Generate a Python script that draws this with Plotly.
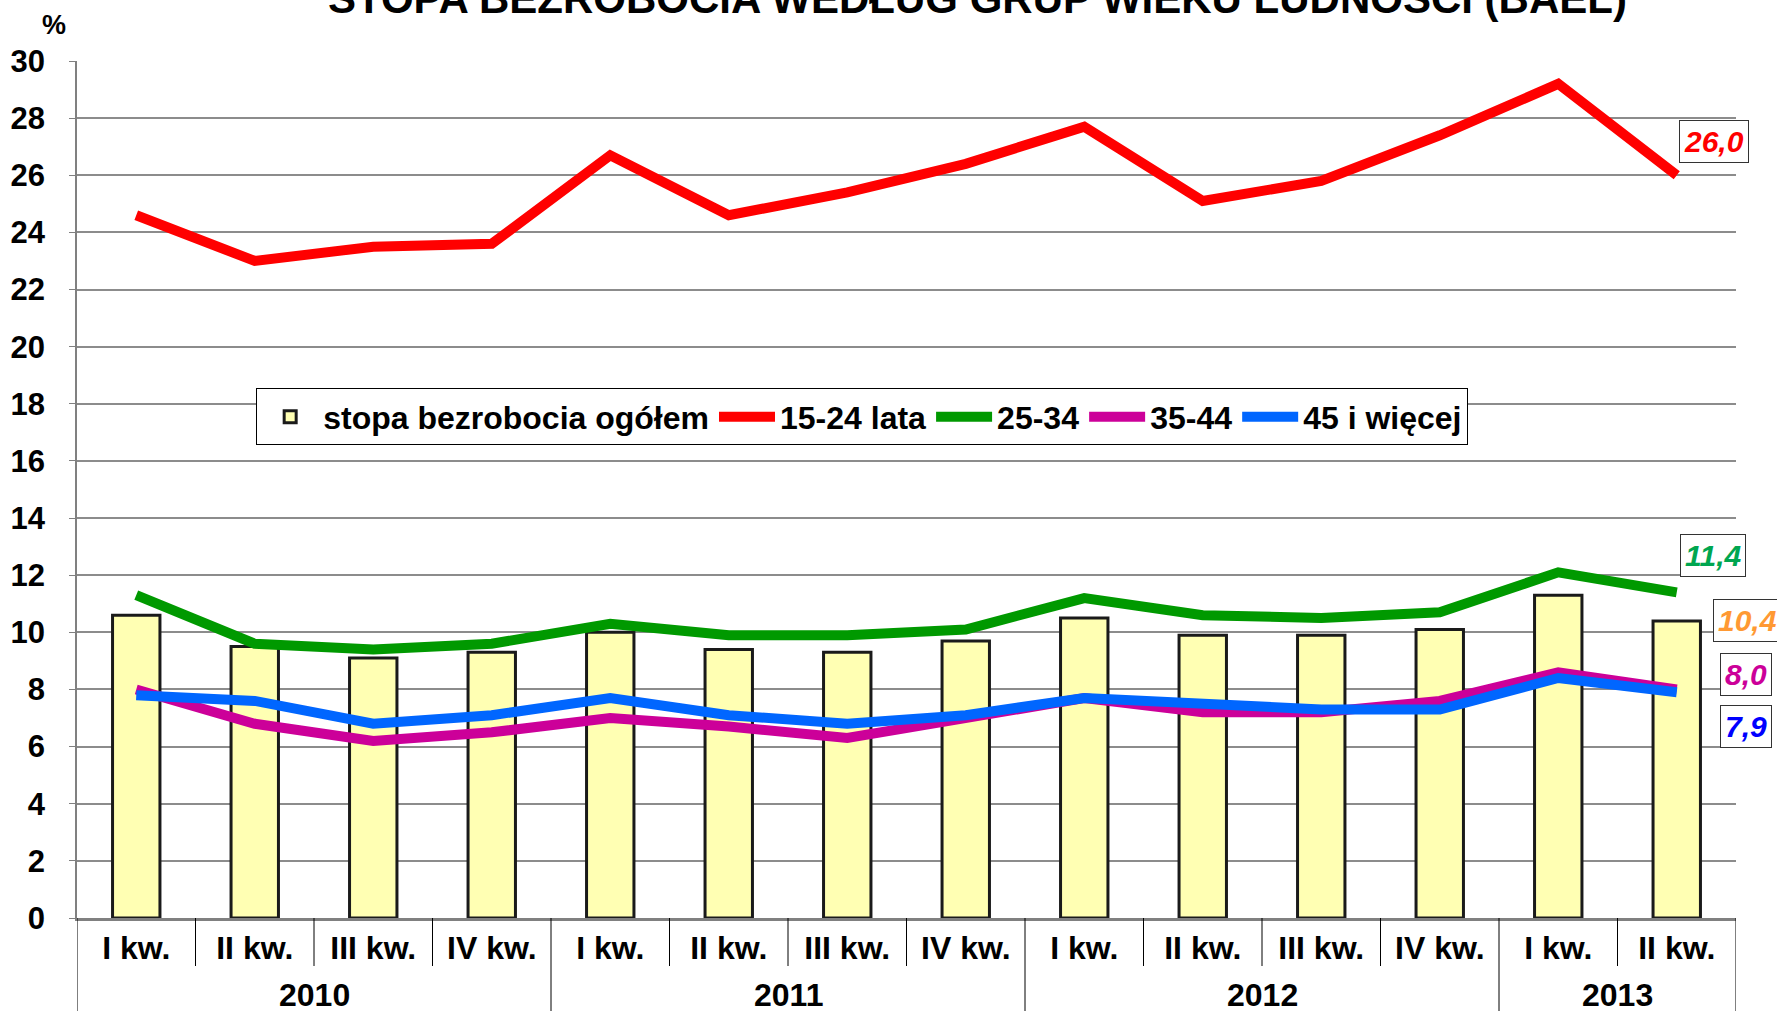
import plotly.graph_objects as go

years = ["2010"] * 4 + ["2011"] * 4 + ["2012"] * 4 + ["2013"] * 2
quarters = ["I kw.", "II kw.", "III kw.", "IV kw."] * 3 + ["I kw.", "II kw."]
total = [10.6, 9.5, 9.1, 9.3, 10.0, 9.4, 9.3, 9.7, 10.5, 9.9, 9.9, 10.1, 11.3, 10.4]
age_15_24 = [24.6, 23.0, 23.5, 23.6, 26.7, 24.6, 25.4, 26.4, 27.7, 25.1, 25.8, 27.4, 29.2, 26.0]
age_25_34 = [11.3, 9.6, 9.4, 9.6, 10.3, 9.9, 9.9, 10.1, 11.2, 10.6, 10.5, 10.7, 12.1, 11.4]
age_35_44 = [8.0, 6.8, 6.2, 6.5, 7.0, 6.7, 6.3, 7.0, 7.7, 7.2, 7.2, 7.6, 8.6, 8.0]
age_45 = [7.8, 7.6, 6.8, 7.1, 7.7, 7.1, 6.8, 7.1, 7.7, 7.5, 7.3, 7.3, 8.4, 7.9]

series_names = ["stopa bezrobocia ogółem", "15-24 lata", "25-34", "35-44", "45 i więcej"]
title_text = "STOPA BEZROBOCIA WEDŁUG GRUP WIEKU LUDNOŚCI (BAEL)"

FONT = "Liberation Sans, Arial, sans-serif"
idx = list(range(len(quarters)))
n = len(idx)

fig = go.Figure()
fig.add_trace(go.Bar(
    x=idx, y=total, name=series_names[0],
    marker=dict(color="#FFFFB3", line=dict(color="#1a1a1a", width=3)),
))
line_specs = [
    (age_15_24, series_names[1], "#FF0000"),
    (age_25_34, series_names[2], "#009900"),
    (age_35_44, series_names[3], "#CC0099"),
    (age_45, series_names[4], "#0066FF"),
]
for vals, name, col in line_specs:
    fig.add_trace(go.Scatter(
        x=idx, y=vals, name=name, mode="lines",
        line=dict(color=col, width=10),
    ))

def fmt(v):
    return f"{v:.1f}".replace(".", ",")

# end-value labels: (value, colour, xshift px, yshift px)
labels = [
    (age_15_24[-1], "#FF0000", 37, 34),
    (age_25_34[-1], "#00A650", 36, 37),
    (total[-1], "#FF9933", 71, 0),
    (age_35_44[-1], "#CC0099", 69, 15),
    (age_45[-1], "#0000FF", 69, -34),
]
for v, col, xs, ys in labels:
    fig.add_annotation(
        x=idx[-1], xref="x", y=v, yref="y", xshift=xs, yshift=ys,
        xanchor="center", yanchor="middle",
        text=f"<b><i>{fmt(v)}</i></b>", showarrow=False,
        font=dict(family=FONT, size=30, color=col),
        bgcolor="white", bordercolor="#333333", borderwidth=1, borderpad=4,
    )

# x-axis grouping: quarter ticks, year dividers and year labels
plot_h = 857.0
groups = []
for i, yr in enumerate(years):
    if not groups or groups[-1][0] != yr:
        groups.append([yr, i, i])
    else:
        groups[-1][2] = i
year_bounds = set()
for yr, a, b in groups:
    year_bounds.add(a - 0.5)
    year_bounds.add(b + 0.5)
    fig.add_annotation(
        x=(a + b) / 2, xref="x", y=-77 / plot_h, yref="paper",
        xanchor="center", yanchor="middle",
        text=f"<b>{yr}</b>", showarrow=False,
        font=dict(family=FONT, size=32, color="black"),
    )
for i in range(n + 1):
    xb = i - 0.5
    if xb in year_bounds:
        y1 = -100 / plot_h
    else:
        y1 = -48 / plot_h
    fig.add_shape(
        type="line", xref="x", yref="paper", x0=xb, x1=xb, y0=0, y1=y1,
        line=dict(color="black", width=1),
    )

fig.add_annotation(
    x=0.543, xref="paper", y=1.073, yref="paper", xanchor="center", yanchor="middle",
    text=f"<b>{title_text}</b>", showarrow=False,
    font=dict(family=FONT, size=42, color="black"),
)
fig.add_annotation(
    x=-0.0139, xref="paper", y=1.042, yref="paper", xanchor="center", yanchor="middle",
    text="<b>%</b>", showarrow=False,
    font=dict(family=FONT, size=27, color="black"),
)

fig.update_layout(
    width=1777, height=1011,
    margin=dict(l=77, r=41, t=61, b=93, autoexpand=False),
    paper_bgcolor="white", plot_bgcolor="white",
    font=dict(family=FONT, size=32, color="black", weight="bold"),
    bargap=0.6,
    showlegend=True,
    legend=dict(
        orientation="h", x=0.108, y=0.618, xanchor="left", yanchor="top",
        bgcolor="white", bordercolor="black", borderwidth=1,
        font=dict(family=FONT, size=32, color="black", weight="bold"),
        itemwidth=56, tracegroupgap=0,
    ),
    xaxis=dict(
        range=[-0.5, n - 0.5], automargin=False,
        tickmode="array", tickvals=idx, ticktext=quarters,
        showline=True, linecolor="#808080", linewidth=3,
        ticks="", ticklabelstandoff=0,
        tickfont=dict(family=FONT, size=32, color="black", weight="bold"),
        showgrid=False, zeroline=False, fixedrange=True,
    ),
    yaxis=dict(
        range=[0, 30], dtick=2, tick0=0, automargin=False,
        showgrid=True, gridcolor="#8c8c8c", gridwidth=1.5,
        showline=True, linecolor="#808080", linewidth=1.5,
        ticks="outside", ticklen=6, tickcolor="#808080",
        ticklabelstandoff=18,
        tickfont=dict(family=FONT, size=31, color="black", weight="bold"),
        zeroline=False, fixedrange=True,
    ),
)

fig.write_html(
    "out.html",
    config={"displayModeBar": False},
    post_script="document.body.style.margin='0';document.body.style.overflow='hidden';",
)
